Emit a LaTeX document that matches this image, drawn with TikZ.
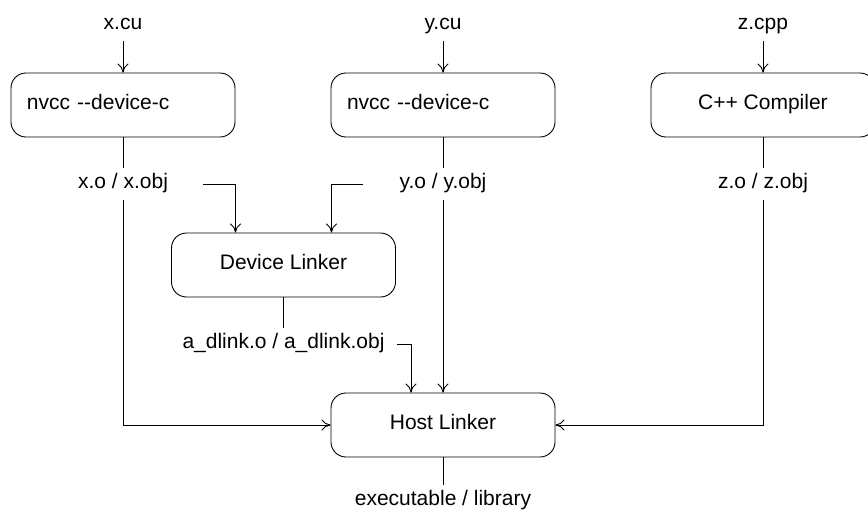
\documentclass[tikz,border=0pt]{standalone}
\usepackage{fontspec}
\setmainfont{Liberation Sans}
\usetikzlibrary{arrows.meta}
\usetikzlibrary{positioning}
\tikzset{
    Box/.style = {rectangle, rounded corners=15pt, draw=black, minimum width=224pt, minimum height=64pt, text height=15pt, text depth=7pt, inner xsep=16pt}
}
\tikzset{
    Edge/.style = {draw=black, line width=0.9pt, -{To[length=9pt,width=11pt]}}
}

\begin{document}
\begin{tikzpicture}[
    x=1pt, y=-1pt,
    line width=0.9pt,
    font=\fontsize{21}{25}\selectfont
]
\tikzset{
    File/.style = {inner sep=0pt, text height=20pt, text depth=12pt},
    Boxl/.style = {Box, text width=192pt, align=left},
}
\useasboundingbox (0,0) rectangle (868,512);
\clip (0,0) rectangle (868,512);
% inputs
\node[File] at (123,25) (xcu) {x.cu};
\node[File] at (443,25) (ycu) {y.cu};
\node[File] at (763,25) (zcpp) {z.cpp};
% compilers
\node[Boxl] at (123,105) (nvccx) {nvcc -{}-device-c};
\node[Boxl] at (443,105) (nvccy) {nvcc -{}-device-c};
\node[Box] at (763,105) (cxx) {C++ Compiler};
% objects
\node[File] at (123,184) (xo) {x.o / x.obj};
\node[File] at (443,184) (yo) {y.o / y.obj};
\node[File] at (763,184) (zo) {z.o / z.obj};
% linkers
\node[Box] at (283.5,265) (dlink) {Device Linker};
\node[File] at (283.5,344) (dlo) {a\_dlink.o / a\_dlink.obj};
\node[Box] at (443,425) (host) {Host Linker};
\node[File] at (443,501) (exe) {executable / library};
\coordinate (xofree) at (203,184);
\coordinate (yofree) at (363,184);
\coordinate (dlofree) at (397,344);
\path (xcu) edge [Edge] (nvccx);
\path (ycu) edge [Edge] (nvccy);
\path (zcpp) edge [Edge] (cxx);
\draw (nvccx) -- (xo);
\draw (nvccy) -- (yo);
\draw (cxx) -- (zo);
\draw (dlink) -- (dlo);
\draw (host) -- (exe);
\draw[Edge] (xofree) -| ([xshift=-48pt]dlink.north);
\draw[Edge] (yofree) -| ([xshift=48pt]dlink.north);
\draw[Edge] (dlofree) -| ([xshift=-32pt]host.north);
\draw[Edge] (xo) |- (host);
\path (yo) edge [Edge] (host);
\draw[Edge] (zo) |- (host);
\end{tikzpicture}
\end{document}
